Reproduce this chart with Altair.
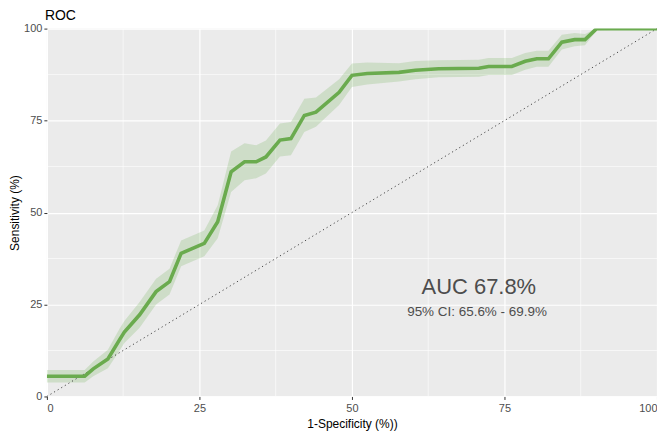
import altair as alt
import pandas as pd

# ROC curve points (1-specificity %, sensitivity %)
fpr = [0, 6.2, 7.6, 10.0, 11.9, 12.7, 15.2, 17.9, 20.1, 22.0, 25.8, 28.0, 30.2, 32.4,
       34.3, 35.9, 38.2, 40.0, 42.2, 44.1, 47.9, 50.0, 52.5, 57.7, 60.4, 64.2, 70.8,
       72.4, 76.2, 78.4, 80.3, 82.2, 84.4, 86.5, 88.2, 90.1, 100]
sens = [5.5, 5.5, 7.5, 10.2, 15.4, 17.5, 22.2, 28.5, 31.2, 38.9, 41.6, 47.5, 61.1, 63.8,
        63.8, 65.1, 69.7, 70.1, 76.4, 77.3, 82.7, 87.3, 87.8, 88.1, 88.7, 89.1, 89.2,
        89.7, 89.7, 91.1, 91.8, 91.8, 96.3, 97.0, 97.0, 100, 100]
ci_low = [3.8, 3.8, 5.5, 7.7, 12.4, 14.5, 18.7, 25.0, 27.7, 35.4, 38.1, 43.0, 55.6, 58.8,
          59.3, 60.6, 65.2, 65.6, 71.9, 73.3, 79.2, 84.1, 84.8, 85.6, 86.2, 86.8, 86.9,
          87.4, 87.4, 88.8, 89.6, 89.6, 94.3, 95.2, 95.5, 99.5, 100]
ci_high = [7.2, 7.2, 9.5, 12.7, 18.4, 20.5, 25.7, 32.0, 34.7, 42.4, 45.1, 52.0, 66.6, 68.8,
           68.3, 69.6, 74.2, 74.6, 80.9, 81.3, 86.2, 90.5, 90.8, 90.6, 91.2, 91.4, 91.5,
           92.0, 92.0, 93.4, 94.0, 94.0, 98.3, 98.8, 98.5, 100, 100]

diag_x = [0, 100]
major_ticks = [0, 25, 50, 75, 100]
minor_ticks = [12.5, 37.5, 62.5, 87.5]

auc_label = ["AUC 67.8%"]
auc_pos = [70.8, 29.8]
ci_label = ["95% CI: 65.6% - 69.9%"]
ci_pos = [70.5, 22.9]

GREEN = "#6aab4e"
FONT = "Liberation Sans"

roc = pd.DataFrame({"fpr": fpr, "sens": sens, "lo": ci_low, "hi": ci_high})
diag = pd.DataFrame({"x": diag_x, "y": diag_x})
minor = pd.DataFrame({"v": minor_ticks})

xs = alt.Scale(domain=[0, 100], nice=False, zero=False)
ys = alt.Scale(domain=[0, 100], nice=False, zero=False)

xaxis = alt.Axis(values=major_ticks, title="1-Specificity (%))", format="d")
yaxis = alt.Axis(values=major_ticks, title="Sensitivity (%)", format="d")

minor_v = alt.Chart(minor).mark_rule(color="white", strokeWidth=0.6).encode(
    x=alt.X("v:Q", scale=xs, axis=xaxis))
minor_h = alt.Chart(minor).mark_rule(color="white", strokeWidth=0.6).encode(
    y=alt.Y("v:Q", scale=ys, axis=yaxis))

band = alt.Chart(roc).mark_area(color=GREEN, opacity=0.22, clip=True).encode(
    x=alt.X("fpr:Q", scale=xs, axis=xaxis),
    y=alt.Y("lo:Q", scale=ys, axis=yaxis),
    y2="hi:Q",
)
line = alt.Chart(roc).mark_line(color=GREEN, strokeWidth=3.6, clip=True).encode(
    x=alt.X("fpr:Q", scale=xs, axis=xaxis),
    y=alt.Y("sens:Q", scale=ys, axis=yaxis),
)
diag_line = alt.Chart(diag).mark_line(color="#444444", strokeWidth=1,
                                      strokeDash=[1.2, 3]).encode(
    x=alt.X("x:Q", scale=xs, axis=xaxis),
    y=alt.Y("y:Q", scale=ys, axis=yaxis),
)

txt_df = pd.DataFrame({"label": auc_label + ci_label,
                       "x": [auc_pos[0], ci_pos[0]],
                       "y": [auc_pos[1], ci_pos[1]]})
auc_text = alt.Chart(txt_df.iloc[[0]]).mark_text(
    font=FONT, fontSize=22, color="#4d4d4d", align="center", baseline="middle").encode(
    x=alt.X("x:Q", scale=xs, axis=xaxis), y=alt.Y("y:Q", scale=ys, axis=yaxis),
    text="label:N")
ci_text = alt.Chart(txt_df.iloc[[1]]).mark_text(
    font=FONT, fontSize=13.5, color="#4d4d4d", align="center", baseline="middle").encode(
    x=alt.X("x:Q", scale=xs, axis=xaxis), y=alt.Y("y:Q", scale=ys, axis=yaxis),
    text="label:N")

chart = alt.layer(minor_v, minor_h, band, diag_line, line, auc_text, ci_text).properties(
    width=612, height=369,
    title=alt.TitleParams("ROC", anchor="start", frame="group", font=FONT, fontSize=14,
                          fontWeight="normal", color="black", offset=0, dy=0, dx=-2),
    autosize=alt.AutoSizeParams(type="none"),
    padding={"left": 39, "top": 20, "right": 0, "bottom": 40},
).configure_view(
    fill="#EBEBEB", stroke=None
).configure_axis(
    grid=True, gridColor="white", gridWidth=1.2, domain=False,
    tickColor="#333333", tickSize=3, tickWidth=1,
    labelFont=FONT, labelFontSize=11, labelColor="#4d4d4d", labelPadding=2,
    titleFont=FONT, titleFontSize=12, titleFontWeight="normal", titleColor="black",
).configure_axisY(titlePadding=2).configure_axisX(titlePadding=5, labelPadding=3)

chart.save("out.html", embed_options={"renderer": "svg", "actions": False})
